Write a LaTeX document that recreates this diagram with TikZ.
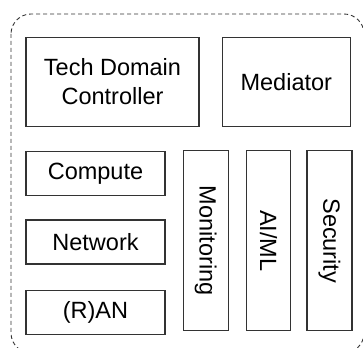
\documentclass[tikz,border=0pt]{standalone}
\usepackage{fontspec}
\setmainfont{Liberation Sans}
\usetikzlibrary{positioning}

\begin{document}
\begin{tikzpicture}[
    x=1pt, y=1pt,
    block/.style={draw=black!80, line width=1.3pt, rectangle, fill=white, align=center, inner sep=0pt,
        font=\fontsize{23.5}{29}\selectfont},
    vblock/.style={block, minimum width=45pt, minimum height=180pt},
    hblock/.style={block, minimum width=139pt, minimum height=44pt},
    vlabel/.style={rotate=-90, font=\fontsize{23.5}{29}\selectfont},
]
    \useasboundingbox (0,0) rectangle (363,347);
    \clip (0,0) rectangle (363,347);

    % Outer frame
    \draw[black!80, line width=0.9pt, dash pattern=on 4pt off 3pt, rounded corners=20pt]
        (11,333) rectangle (364,-6);

    % Top row
    \node[block, minimum width=173pt, minimum height=89pt] (tdc) at (112.5,265) {Tech Domain\\Controller};
    \node[block, minimum width=128pt, minimum height=89pt, right=22pt of tdc] (med) {Mediator};

    % Domains
    \node[hblock, below=24pt of tdc.south west, anchor=north west] (comp) {Compute};
    \node[hblock, below=23pt of comp] (net) {Network};
    \node[hblock, below=25pt of net] (ran) {(R)AN};

    % Cross-domain functions
    \node[vblock, right=17pt of comp.north east, anchor=north west, yshift=1pt] (mon) {};
    \node[vlabel] at (mon.center) {Monitoring};
    \node[vblock, minimum width=44pt, right=17pt of mon] (ai) {};
    \node[vlabel] at (ai.center) {AI/ML};
    \node[vblock, right=15pt of ai] (sec) {};
    \node[vlabel] at (sec.center) {Security};

\end{tikzpicture}
\end{document}
